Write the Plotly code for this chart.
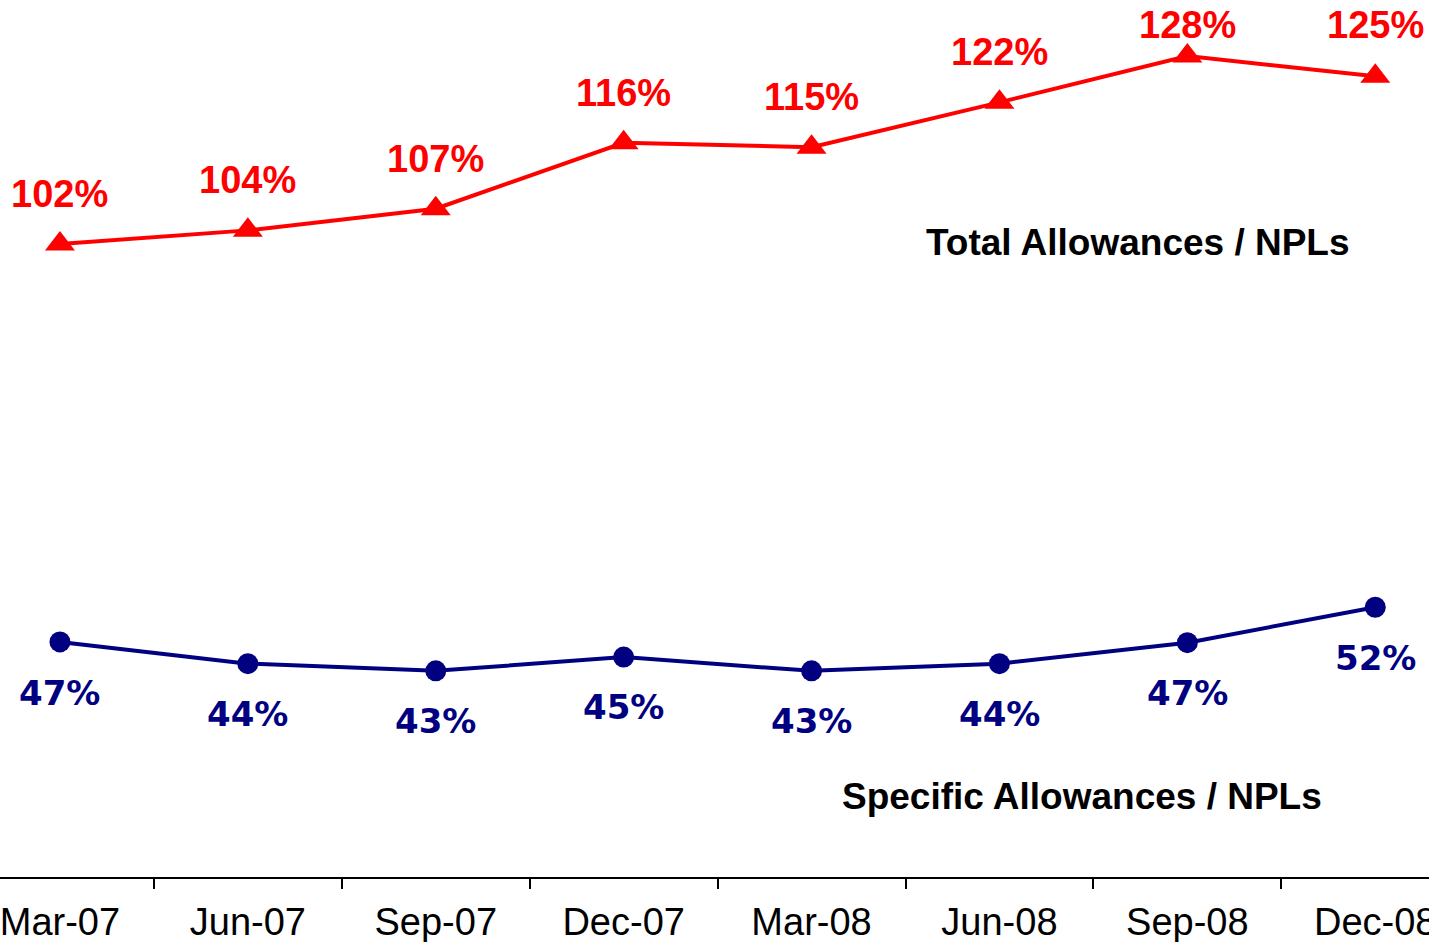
import plotly.graph_objects as go

categories = ["Mar-07", "Jun-07", "Sep-07", "Dec-07", "Mar-08", "Jun-08", "Sep-08", "Dec-08"]
total_values = [102, 103.9, 106.9, 116.0, 115.4, 121.6, 128, 125.2]
total_labels = ["102%", "104%", "107%", "116%", "115%", "122%", "128%", "125%"]
specific_values = [47, 44, 43, 44.9, 43, 44, 46.9, 51.8]
specific_labels = ["47%", "44%", "43%", "45%", "43%", "44%", "47%", "52%"]

RED = "#FF0000"
NAVY = "#000080"
W, H = 1429, 942
PLOT_H = 877

# label vertical offsets (px) -- layout only
total_label_shift = [50, 50, 50, 50, 50, 50, 31, 51]
specific_label_shift = [-51, -50, -50, -50, -50, -50, -50, -51]

fig = go.Figure()
fig.add_trace(go.Scatter(
    x=categories, y=total_values, mode="lines+markers",
    line=dict(color=RED, width=4),
    marker=dict(symbol="triangle-up", size=26, color=RED),
    showlegend=False, hoverinfo="skip"))
fig.add_trace(go.Scatter(
    x=categories, y=specific_values, mode="lines+markers",
    line=dict(color=NAVY, width=4),
    marker=dict(symbol="circle", size=21, color=NAVY),
    showlegend=False, hoverinfo="skip"))

annotations = []
for c, v, t, s in zip(categories, total_values, total_labels, total_label_shift):
    annotations.append(dict(x=c, y=v, text=t, showarrow=False, yshift=s,
                            xanchor="center", yanchor="middle",
                            font=dict(family="Liberation Sans, Arial", size=38, color=RED, weight="bold")))
for c, v, t, s in zip(categories, specific_values, specific_labels, specific_label_shift):
    annotations.append(dict(x=c, y=v, text=t, showarrow=False, yshift=s,
                            xanchor="center", yanchor="middle",
                            font=dict(family="DejaVu Sans, Verdana", size=34, color=NAVY, weight="bold")))

annotations.append(dict(xref="paper", yref="paper", x=1138 / W, y=1 - 243 / PLOT_H,
                        text="Total Allowances / NPLs", showarrow=False,
                        xanchor="center", yanchor="middle",
                        font=dict(family="Liberation Sans, Arial", size=37, color="black", weight="bold")))
annotations.append(dict(xref="paper", yref="paper", x=1082 / W, y=1 - 796 / PLOT_H,
                        text="Specific Allowances / NPLs", showarrow=False,
                        xanchor="center", yanchor="middle",
                        font=dict(family="Liberation Sans, Arial", size=37, color="black", weight="bold")))

fig.update_layout(
    width=W, height=H,
    margin=dict(l=0, r=0, t=0, b=H - PLOT_H, autoexpand=False),
    plot_bgcolor="white", paper_bgcolor="white",
    annotations=annotations,
    xaxis=dict(
        type="category", categoryorder="array", categoryarray=categories,
        range=[-0.319, 7.286],
        showline=True, linecolor="black", linewidth=2,
        ticks="outside", tickson="boundaries", ticklen=10, tickwidth=2, tickcolor="black",
        ticklabelstandoff=10,
        showgrid=False, zeroline=False, automargin=False,
        tickfont=dict(family="Liberation Sans, Arial", size=38, color="black"),
    ),
    yaxis=dict(
        range=[14.5, 135.75], visible=False, showgrid=False, zeroline=False,
    ),
)

fig.write_html("out.html", config={"displayModeBar": False},
               post_script="document.body.style.margin='0';document.body.style.overflow='hidden';")
